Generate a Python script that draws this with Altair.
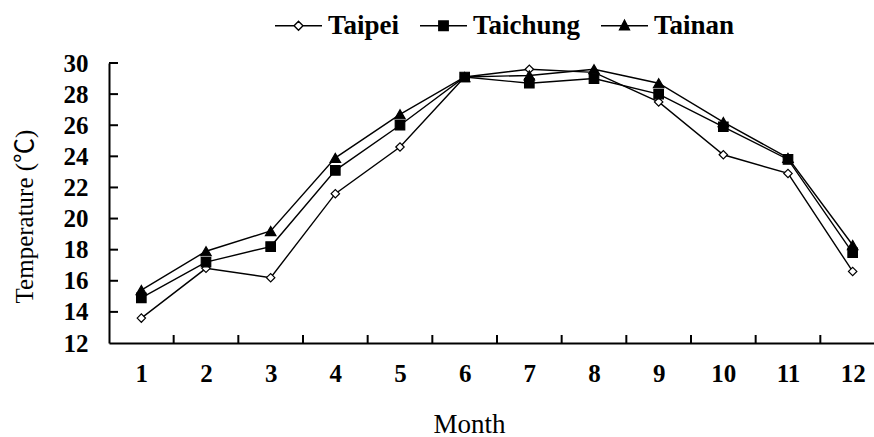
import altair as alt
import pandas as pd

# Monthly mean temperature (°C) for three cities
MONTHS = [1, 2, 3, 4, 5, 6, 7, 8, 9, 10, 11, 12]
TAIPEI = [13.6, 16.8, 16.2, 21.6, 24.6, 29.1, 29.6, 29.4, 27.5, 24.1, 22.9, 16.6]
TAICHUNG = [14.9, 17.2, 18.2, 23.1, 26.0, 29.1, 28.7, 29.0, 28.0, 25.9, 23.8, 17.8]
TAINAN = [15.4, 17.9, 19.2, 23.9, 26.7, 29.1, 29.2, 29.6, 28.7, 26.2, 23.9, 18.3]
SERIES = ["Taipei", "Taichung", "Tainan"]
Y_TICKS = [12, 14, 16, 18, 20, 22, 24, 26, 28, 30]
X_TICKS = [1.5, 2.5, 3.5, 4.5, 5.5, 6.5, 7.5, 8.5, 9.5, 10.5, 11.5]

rows = []
for name, vals in zip(SERIES, [TAIPEI, TAICHUNG, TAINAN]):
    for m, v in zip(MONTHS, vals):
        rows.append({"month": m, "temp": v, "series": name, "series_key": name})
df = pd.DataFrame(rows)

FONT = "Liberation Serif"
TITLE_FONT = "Liberation Serif, Noto Sans CJK TC"

# month slots are one unit wide; the right end runs past the visible frame
x_scale = alt.Scale(domain=[0.5, 12.33], nice=False, zero=False)
y_scale = alt.Scale(domain=[12, 30], nice=False, zero=False)

x_axis = alt.Axis(title="Month", values=MONTHS, format="d", labelFont=FONT,
                  labelFontSize=25, labelFontWeight="bold", labelColor="black",
                  labelAngle=0, labelPadding=18, labelOverlap=False,
                  labelFlush=False, ticks=False, tickSize=0,
                  domainColor="black", domainWidth=2,
                  titleFont=FONT, titleFontSize=27, titleFontWeight="normal",
                  titleColor="black", titleX=360, titleY=89,
                  titleBaseline="alphabetic", grid=False)
y_axis = alt.Axis(title="Temperature (℃)", values=Y_TICKS, labelFont=FONT,
                  labelFontSize=25, labelFontWeight="bold", labelColor="black",
                  labelPadding=21, labelOverlap=False, labelFlush=False,
                  ticks=False, tickSize=0,
                  domainColor="black", domainWidth=2,
                  titleFont=TITLE_FONT, titleFontSize=25, titleFontWeight="normal",
                  titleColor="black", titleX=-85, titleY=153, titleAngle=-90,
                  titleAlign="center", titleBaseline="middle", grid=False)


def xpos(field):
    return alt.X(field, scale=x_scale, axis=x_axis, title="Month")


def ypos(field):
    return alt.Y(field, scale=y_scale, axis=y_axis, title="Temperature (℃)")


lines = alt.Chart(df).mark_line(color="black", strokeWidth=1.4).encode(
    x=xpos("month:Q"), y=ypos("temp:Q"), detail="series:N"
)

points = alt.Chart(df).mark_point(stroke="black", strokeWidth=1.2, opacity=1).encode(
    x=xpos("month:Q"),
    y=ypos("temp:Q"),
    shape=alt.Shape("series:N", legend=None,
                    scale=alt.Scale(domain=SERIES,
                                    range=["diamond", "square", "triangle-up"])),
    fill=alt.Fill("series:N", legend=None,
                  scale=alt.Scale(domain=SERIES, range=["white", "black", "black"])),
    size=alt.Size("series:N", legend=None,
                  scale=alt.Scale(domain=SERIES, range=[70, 110, 110])),
)

# Legend: line-and-marker symbols drawn as custom paths
LEGEND_PATHS = [
    "M-1,0H-0.19M0.19,0H1M-0.19,0L0,-0.19L0.19,0L0,0.19Z",
    "M-1,0H1M-0.2,-0.2H0.2V0.2H-0.2Z",
    "M-1,0H1M-0.21,0.17L0,-0.23L0.21,0.17Z",
]
legend = alt.Legend(title=None, orient="none", legendX=165, legendY=-62,
                    direction="horizontal", labelFont=FONT, labelFontSize=27,
                    labelFontWeight="bold", labelColor="black", labelOffset=5,
                    columnPadding=17, symbolSize=2209, symbolStrokeWidth=1.4,
                    symbolOpacity=1)
legend_layer = alt.Chart(df).transform_filter("datum.temp > 100").mark_point(
    opacity=1
).encode(
    x=xpos("month:Q"),
    y=ypos("temp:Q"),
    shape=alt.Shape("series_key:N", legend=legend,
                    scale=alt.Scale(domain=SERIES, range=LEGEND_PATHS)),
    fill=alt.Fill("series_key:N", legend=legend,
                  scale=alt.Scale(domain=SERIES, range=["white", "black", "black"])),
    stroke=alt.Stroke("series_key:N", legend=legend,
                      scale=alt.Scale(domain=SERIES, range=["black", "black", "black"])),
)

# Inward tick marks on both axes
xt = pd.DataFrame({"month": X_TICKS})
x_ticks = alt.Chart(xt).mark_rule(color="black", strokeWidth=2).encode(
    x=xpos("month:Q"),
    y=alt.value(280), y2=alt.value(272),
)
yt = pd.DataFrame({"temp": Y_TICKS[1:]})
y_ticks = alt.Chart(yt).mark_rule(color="black", strokeWidth=2).encode(
    y=ypos("temp:Q"),
    x=alt.value(0), x2=alt.value(9),
)

chart = alt.layer(lines, points, legend_layer, x_ticks, y_ticks).resolve_scale(
    shape="independent", fill="independent", stroke="independent"
).properties(
    width=765, height=280,
    autosize=alt.AutoSizeParams(type="none"),
    padding={"left": 109, "top": 63, "right": 0, "bottom": 94},
    background="white",
).configure_view(stroke=None)

chart.save("out.html", embed_options={"renderer": "svg", "actions": False})
